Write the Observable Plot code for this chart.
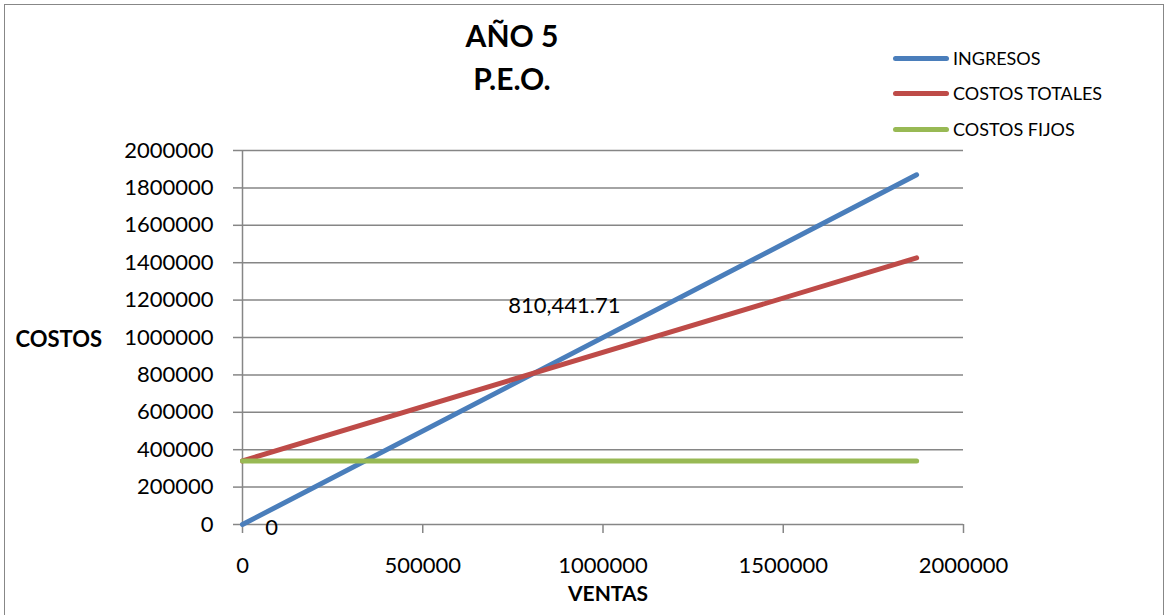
<!DOCTYPE html>
<html>
<head>
<meta charset="utf-8">
<script src="https://cdn.jsdelivr.net/npm/d3@7"></script>
<script src="https://cdn.jsdelivr.net/npm/@observablehq/plot@0.6"></script>
<style>
  html, body { margin: 0; padding: 0; background: #fff; }
  #wrap { position: relative; width: 1167px; height: 615px; overflow: hidden; font-family: Lato, "Open Sans", sans-serif; }
  #frame { position: absolute; left: 4px; top: 4px; width: 1158px; height: 640px; border: 1.5px solid #878787; pointer-events: none; }
  .title { position: absolute; left: 362px; width: 300px; text-align: center; font-weight: bold; font-size: 30px; line-height: 43px; color: #000; }
  .leg { position: absolute; left: 890px; height: 20px; display: flex; align-items: center; font-size: 18px; color: #000; }
  .leg .sw { width: 56px; height: 5px; border-radius: 3px; margin-right: 4px; margin-left: 3px; }
</style>
</head>
<body>
<div id="wrap">
  <div id="chart"></div>
  <div class="title" style="top:14px">AÑO 5</div>
  <div class="title" style="top:57px">P.E.O.</div>
  <div id="legend"></div>
  <div id="frame"></div>
</div>
<script>
// ---- data ----
const ventas = [0, 1870000];
const ingresos = [0, 1870000];
const costosTotales = [340000, 1425500];
const costosFijos = [340000, 340000];

const seriesNames = ["INGRESOS", "COSTOS TOTALES", "COSTOS FIJOS"];
const seriesColors = ["#4A7EBB", "#BE4B48", "#98B954"];

const xTicks = [0, 500000, 1000000, 1500000, 2000000];
const yTicks = [0, 200000, 400000, 600000, 800000, 1000000, 1200000, 1400000, 1600000, 1800000, 2000000];

const labelX = [0, 893000];
const labelY = [0, 1171000];
const labelText = ["0", "810,441.71"];

// ---- build ----
const seriesValues = [ingresos, costosTotales, costosFijos];
const rows = [];
seriesNames.forEach((name, i) => {
  ventas.forEach((v, j) => rows.push({series: name, x: v, y: seriesValues[i][j]}));
});
const labels = labelText.map((t, i) => ({x: labelX[i], y: labelY[i], t}));

const grid = "#868686";
const plot = Plot.plot({
  width: 1167,
  height: 615,
  marginLeft: 242,
  marginRight: 204,
  marginTop: 150,
  marginBottom: 91,
  style: {fontFamily: "Lato, 'Open Sans', sans-serif", fontSize: "22px", background: "transparent", color: "#000", overflow: "visible"},
  x: {domain: [0, 2000000]},
  y: {domain: [0, 2000000]},
  marks: [
    Plot.ruleY(yTicks, {stroke: grid, strokeWidth: 1.5}),
    Plot.ruleX([0], {stroke: grid, strokeWidth: 1.5}),
    Plot.axisY({ticks: yTicks, tickFormat: d => String(d), tickSize: 9, tickPadding: 20, stroke: grid, strokeWidth: 1.5, fill: "#000", label: null}),
    Plot.axisX({ticks: xTicks, tickFormat: d => String(d), tickSize: 9, tickPadding: 24, stroke: grid, strokeWidth: 1.5, fill: "#000", label: null}),
    ...seriesNames.map((name, i) =>
      Plot.line(rows.filter(r => r.series === name), {x: "x", y: "y", stroke: seriesColors[i], strokeWidth: 5, strokeLinecap: "round"})
    ),
    Plot.text([labels[0]], {x: "x", y: "y", text: "t", dx: 29, dy: 3, fontSize: 22, fill: "#000"}),
    Plot.text([labels[1]], {x: "x", y: "y", text: "t", fontSize: 22, fill: "#000"}),
    Plot.text(["COSTOS"], {frameAnchor: "left", text: d => d, textAnchor: "start", dx: -227, dy: 2, fontWeight: "bold", fontSize: 22, fill: "#000"}),
    Plot.text(["VENTAS"], {frameAnchor: "bottom", text: d => d, dy: 76, dx: 5, fontWeight: "bold", fontSize: 21, fill: "#000"})
  ]
});
document.getElementById("chart").appendChild(plot);

const legend = document.getElementById("legend");
const legendY = [58, 93, 129];
seriesNames.forEach((name, i) => {
  const row = document.createElement("div");
  row.className = "leg";
  row.style.top = (legendY[i] - 10) + "px";
  const sw = document.createElement("span");
  sw.className = "sw";
  sw.style.background = seriesColors[i];
  const tx = document.createElement("span");
  tx.textContent = name;
  row.appendChild(sw);
  row.appendChild(tx);
  legend.appendChild(row);
});
</script>
</body>
</html>
